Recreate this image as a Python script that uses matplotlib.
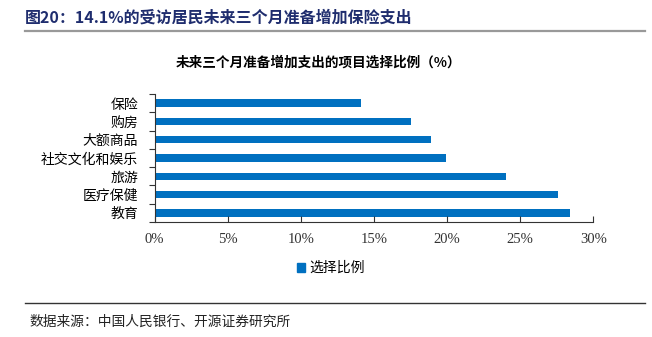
import matplotlib
matplotlib.use("Agg")
import matplotlib.pyplot as plt
from matplotlib.lines import Line2D

plt.rcParams['font.family'] = ['Noto Sans CJK SC', 'DejaVu Sans']

categories = ["教育", "医疗保健", "旅游", "社交文化和娱乐", "大额商品", "购房", "保险"]
values = [28.4, 27.6, 24.0, 19.9, 18.9, 17.5, 14.1]
x_ticks = [0, 5, 10, 15, 20, 25, 30]

bar_color = "#0070C0"
title_color = "#1F2D6E"

fig = plt.figure(figsize=(6.52, 3.37), dpi=100)

# header
fig.text(25 / 652, 1 - 18 / 337, "图20：14.1%的受访居民未来三个月准备增加保险支出",
         fontsize=11.5, fontweight="bold", color=title_color, va="center", ha="left")
fig.add_artist(Line2D([25 / 652, 645 / 652], [1 - 31 / 337] * 2, color="#999999", lw=1.6))

ax = fig.add_axes([154.7 / 652, 1 - 222 / 337, (593.3 - 154.7) / 652, 128 / 337])
y = list(range(len(categories)))
ax.barh(y, values, height=0.4, color=bar_color)
ax.set_xlim(0, 30)
ax.set_ylim(-0.5, len(categories) - 0.5)

ax.set_xticks(x_ticks)
ax.set_xticklabels([f"{t}%" for t in x_ticks], fontfamily="Liberation Serif", fontsize=10.5)
ax.tick_params(axis="x", direction="in", length=4, width=0.8, pad=8, colors="#333333")

ax.set_yticks(y)
ax.set_yticklabels(categories, fontsize=10)
ax.tick_params(axis="y", length=0, pad=12)
ax.set_yticks([i + 0.5 for i in range(-1, len(categories))], minor=True)
ax.tick_params(axis="y", which="minor", direction="out", length=4, width=0.8, color="#333333")

for s in ["top", "right"]:
    ax.spines[s].set_visible(False)
for s in ["left", "bottom"]:
    ax.spines[s].set_color("#333333")
    ax.spines[s].set_linewidth(0.8)

fig.text(318 / 652, 1 - 63 / 337, "未来三个月准备增加支出的项目选择比例（%）",
         fontsize=9.8, fontweight="bold", ha="center", va="center")

# legend
fig.legend(handles=[plt.Rectangle((0, 0), 1, 1, color=bar_color)], labels=["选择比例"],
           loc="center", bbox_to_anchor=(331 / 652, 1 - 268 / 337), frameon=False,
           fontsize=10, handlelength=0.6, handleheight=0.6, handletextpad=0.3)

# footer
fig.add_artist(Line2D([25 / 652, 645 / 652], [1 - 303 / 337] * 2, color="#333333", lw=1.0))
fig.text(30 / 652, 1 - 322 / 337, "数据来源：中国人民银行、开源证券研究所",
         fontsize=9.9, ha="left", va="center", color="#222222")

fig.savefig("out.png", dpi=100)
